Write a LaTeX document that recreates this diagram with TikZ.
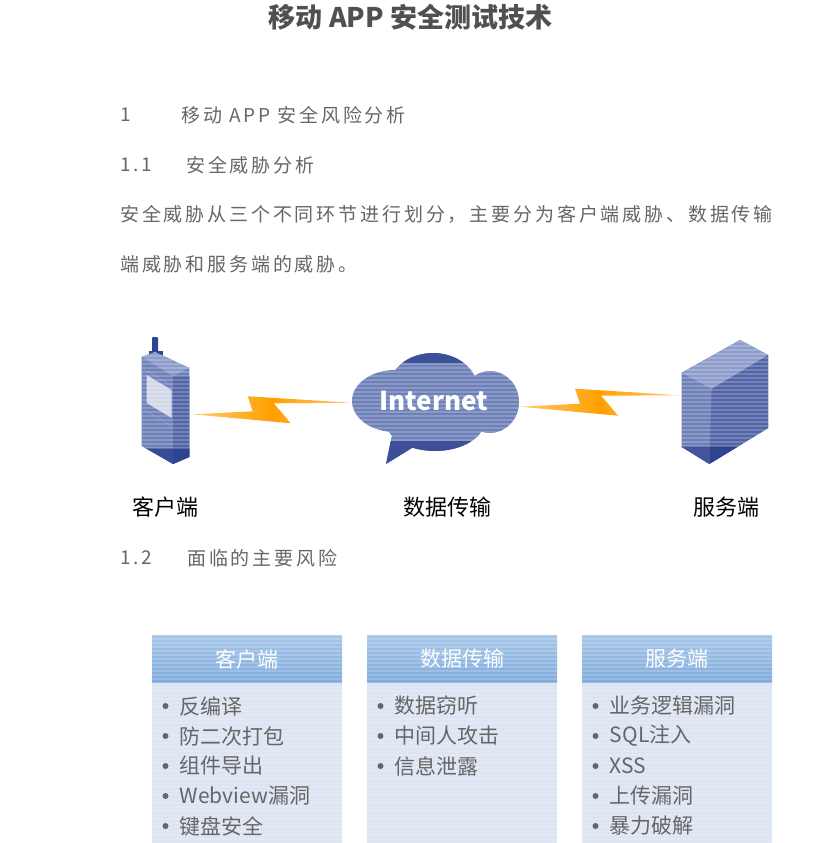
\documentclass[tikz,border=0pt]{standalone}
\usepackage{fontspec}
\setmainfont{Noto Sans CJK SC}
\newfontfamily\spacedcjk[LetterSpace=15]{Noto Sans CJK SC}
\usetikzlibrary{positioning,calc}
\definecolor{inktext}{HTML}{666666}
\definecolor{titletext}{HTML}{505050}
\definecolor{devbody}{HTML}{6E80B8}
\definecolor{devdark}{HTML}{2F4390}
\definecolor{devlight}{HTML}{8E9CCB}
\definecolor{boltorange}{HTML}{FFA000}
\definecolor{headtop}{HTML}{A6C6E8}
\definecolor{headbottom}{HTML}{7FAADB}
\definecolor{panelbody}{HTML}{DEE5F2}
\tikzset{
  paneltext/.style={anchor=west,inner sep=0pt,text=inktext,font=\fontsize{21}{21}\selectfont},
  bodytext/.style={anchor=west,inner sep=0pt,text=inktext,font=\fontsize{19}{19}\selectfont\spacedcjk},
  labeltext/.style={inner sep=0pt,text=black,font=\fontsize{22}{22}\selectfont},
  hatched/.style={path picture={\foreach \yy in {0,4,...,208}
    \draw[white,opacity=.18,line width=1.6pt]
      ([yshift=-\yy pt]path picture bounding box.north west) --
      ([yshift=-\yy pt]path picture bounding box.north east);}},
  headbox/.style={top color=headtop,bottom color=headbottom,hatched,
    minimum width=190pt,minimum height=48pt,inner sep=0pt,outer sep=0pt,
    text=white,font=\fontsize{21}{21}\selectfont},
  bodybox/.style={fill=panelbody,hatched,minimum width=190pt,minimum height=160pt,inner sep=0pt,outer sep=0pt},
  bulletdot/.style={circle,fill=inktext,inner sep=0pt,minimum size=6pt}
}
\newcommand{\bandlines}[4]{\foreach \yy in {#3,#4,...,#2}
  \draw[white,opacity=.2,line width=1.4pt] (#1,\yy) -- ++(190,0);}
\newcommand{\boltshape}[2]{\shade[left color=boltorange!55!white,right color=boltorange!55!white,middle color=boltorange]
  (#1) -- ($(#1)+(60,-3)$) -- ($(#1)+(55,-18)$)
  -- (#2) -- ($(#1)+(81,-11)$) -- ($(#1)+(88,-3)$) -- ($(#1)+(98,9)$) -- cycle;}
\begin{document}
\begin{tikzpicture}[x=1pt,y=-1pt]
\useasboundingbox (0,0) rectangle (818,843);
\node[inner sep=0pt,text=titletext,font=\fontsize{27}{27}\selectfont\bfseries] (doctitle) at (410.5,17) {移动 APP 安全测试技术};
\node[bodytext] (secone) at (120,115) {1};
\node[bodytext] (seconetext) at (181,115) {移动 APP 安全风险分析};
\node[bodytext] (secoo) at (120,165) {1.1};
\node[bodytext] (secootext) at (186,165) {安全威胁分析};
\node[bodytext] (paraone) at (120,214) {安全威胁从三个不同环节进行划分，主要分为客户端威胁、数据传输};
\node[bodytext] (paratwo) at (120,264) {端威胁和服务端的威胁。};
\node[bodytext] (secot) at (120,558) {1.2};
\node[bodytext] (secottext) at (187,558) {面临的主要风险};
% phone
\fill[devdark] (149,351) rectangle (163,357);
\fill[devdark,rounded corners=1pt] (152,337) rectangle (158,354);
\begin{scope}
\clip (141.7,357) -- (155,352) -- (189.3,368) -- (189.3,457) -- (173,464) -- (141.7,446) -- cycle;
\fill[devbody] (140,350) rectangle (190,466);
\fill[devlight] (141.7,357) -- (155,352) -- (189.3,368) -- (173,376) -- cycle;
\fill[devdark!45!devbody] (173,376) rectangle (190,448);
\fill[devdark!85!devbody] (140,448) rectangle (190,466);
\fill[devdark] (173,448) rectangle (190,466);
\fill[white!60!devlight] (146.7,375) -- (171.7,390) -- (171.7,418) -- (146.7,403) -- cycle;
\draw[devlight] (141.7,408) -- (173,427);
\draw[devlight] (141.7,368) -- (173,387);
\bandlines{140}{448}{352}{356}
\end{scope}
\coordinate (phoneport) at (192.7,414.3);
% cloud
\begin{scope}
\clip (395,401) ellipse (43 and 31) (433,390) ellipse (45 and 37) (490,402) ellipse (29 and 31)
  (435,420) ellipse (50 and 31) (393,430) -- (420,443) -- (386,464) -- cycle;
\fill[devbody] (345,350) rectangle (525,470);
\fill[devdark!80!devbody] (345,350) rectangle (525,363);
\fill[devdark!80!devbody] (345,441) rectangle (525,470);
\bandlines{345}{440}{364}{368}
\end{scope}
\node[inner sep=0pt,text=white,font=\fontsize{26}{26}\selectfont\bfseries] (cloudtext) at (434,401) {Internet};
\coordinate (cloudwest) at (351.7,402.7);
\coordinate (cloudeast) at (520,406.7);
% server
\begin{scope}
\clip (740,340) -- (768.3,355) -- (768.3,428) -- (709.3,464) -- (681.7,447) -- (681.7,372.7) -- cycle;
\fill[devbody] (680,338) rectangle (770,466);
\fill[devlight] (740,340) -- (768.3,355) -- (711.7,389) -- (681.7,372.7) -- cycle;
\fill[devdark!45!devbody] (711.7,389) -- (768.3,355) -- (768.3,428) -- (709.3,464) -- cycle;
\fill[devdark!70!devbody] (680,446) rectangle (710,466);
\fill[devdark] (710,446) rectangle (770,466);
\bandlines{678}{446}{342}{346}
\end{scope}
\coordinate (serverport) at (680,395.3);
\boltshape{phoneport}{cloudwest}
\boltshape{cloudeast}{serverport}
\node[labeltext] (clientlabel) at (165.5,507) {客户端};
\node[labeltext] (datalabel) at (447,507) {数据传输};
\node[labeltext] (serverlabel) at (726,507) {服务端};
% panels
\node[headbox] (clienthead) at (247,659) {客户端};
\node[headbox,right=25pt of clienthead] (datahead) {数据传输};
\node[headbox,right=25pt of datahead] (serverhead) {服务端};
\node[bodybox,below=0pt of clienthead] (clientbody) {};
\node[bodybox,below=0pt of datahead] (databody) {};
\node[bodybox,below=0pt of serverhead] (serverbody) {};
\foreach \panel/\lst in {client/{反编译,防二次打包,组件导出,Webview漏洞,键盘安全},
  data/{数据窃听,中间人攻击,信息泄露},
  server/{业务逻辑漏洞,SQL注入,XSS,上传漏洞,暴力破解}}{
  \foreach \item [count=\i] in \lst {
    \node[bulletdot] (\panel dot\i) at ($(\panel body.north west)+(13.5,{23+30*(\i-1)})$) {};
    \node[paneltext,right=11pt of \panel dot\i] (\panel item\i) {\item};
  }
}
\end{tikzpicture}
\end{document}
